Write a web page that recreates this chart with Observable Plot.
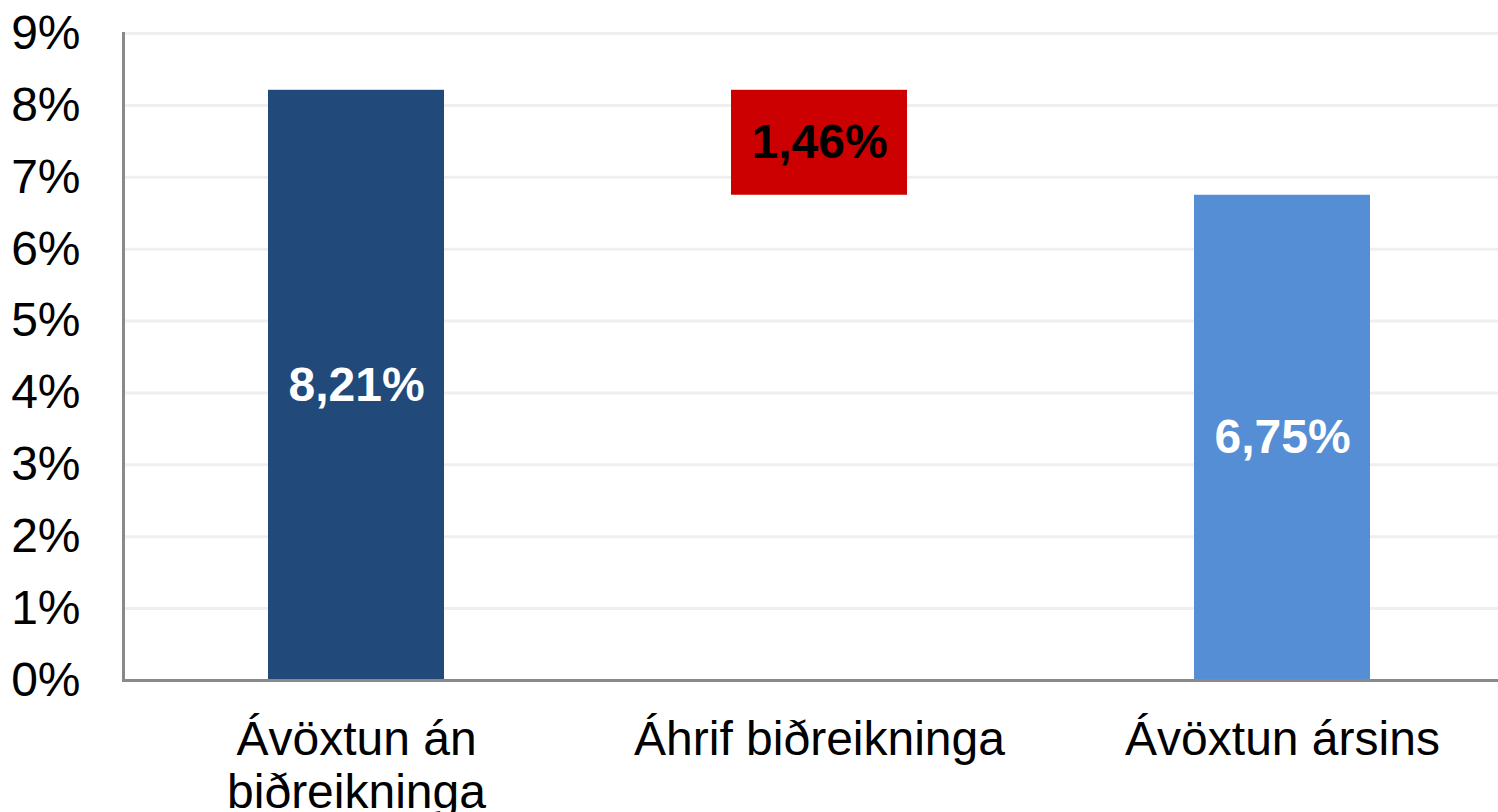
<!DOCTYPE html>
<html>
<head>
<meta charset="utf-8">
<script src="https://cdn.jsdelivr.net/npm/d3@7"></script>
<script src="https://cdn.jsdelivr.net/npm/@observablehq/plot@0.6"></script>
<style>
  html, body { margin: 0; padding: 0; background: #fff; }
  #chart svg { display: block; }
</style>
</head>
<body>
<div id="chart"></div>
<script>
// Data
const categories = ["Ávöxtun án\nbiðreikninga", "Áhrif biðreikninga", "Ávöxtun ársins"];
const values = [8.21, -1.46, 6.75];           // first total, change, final total
const kinds = ["total", "delta", "total"];
const valueLabels = ["8,21%", "1,46%", "6,75%"];
const barColors = ["#214a7b", "#cc0000", "#558ed5"];
const labelColors = ["#ffffff", "#000000", "#ffffff"];
const yTicks = [0, 1, 2, 3, 4, 5, 6, 7, 8, 9];

// Build waterfall table
let running = 0;
const data = categories.map((c, i) => {
  let start, end;
  if (kinds[i] === "total") { start = 0; end = values[i]; running = values[i]; }
  else { start = running; end = running + values[i]; running = end; }
  return { cat: c, start, end, label: valueLabels[i], color: barColors[i], labelColor: labelColors[i] };
});

const chart = Plot.plot({
  width: 1498,
  height: 812,
  marginLeft: 123,
  marginRight: 0,
  marginTop: 33,
  marginBottom: 132,
  style: { fontFamily: "'Liberation Sans', Arial, sans-serif", fontSize: "48px", background: "#fff", color: "#000" },
  x: { domain: categories, range: [123, 1514], paddingInner: 0.62, paddingOuter: 0.31, align: 0.5, label: null },
  y: { domain: [0, 9], label: null },
  color: { type: "identity" },
  marks: [
    Plot.ruleY(yTicks.filter(t => t > 0), { stroke: "#efefef", strokeWidth: 3 }),
    Plot.barY(data, { x: "cat", y1: "start", y2: "end", fill: "color" }),
    Plot.text(data, { x: "cat", y: d => (d.start + d.end) / 2, text: "label", fill: "labelColor", fontWeight: "bold", fontSize: 48 }),
    Plot.frame({ anchor: "left", stroke: "#898989", strokeWidth: 3 }),
    Plot.ruleY([0], { stroke: "#898989", strokeWidth: 3 }),
    Plot.axisY({ ticks: yTicks, tickFormat: d => d + "%", tickSize: 0, tickPadding: 43, fontSize: 48, label: null }),
    Plot.axisX({ tickSize: 0, tickPadding: 37, fontSize: 48, lineHeight: 1.1, label: null })
  ]
});
document.getElementById("chart").appendChild(chart);
</script>
</body>
</html>
